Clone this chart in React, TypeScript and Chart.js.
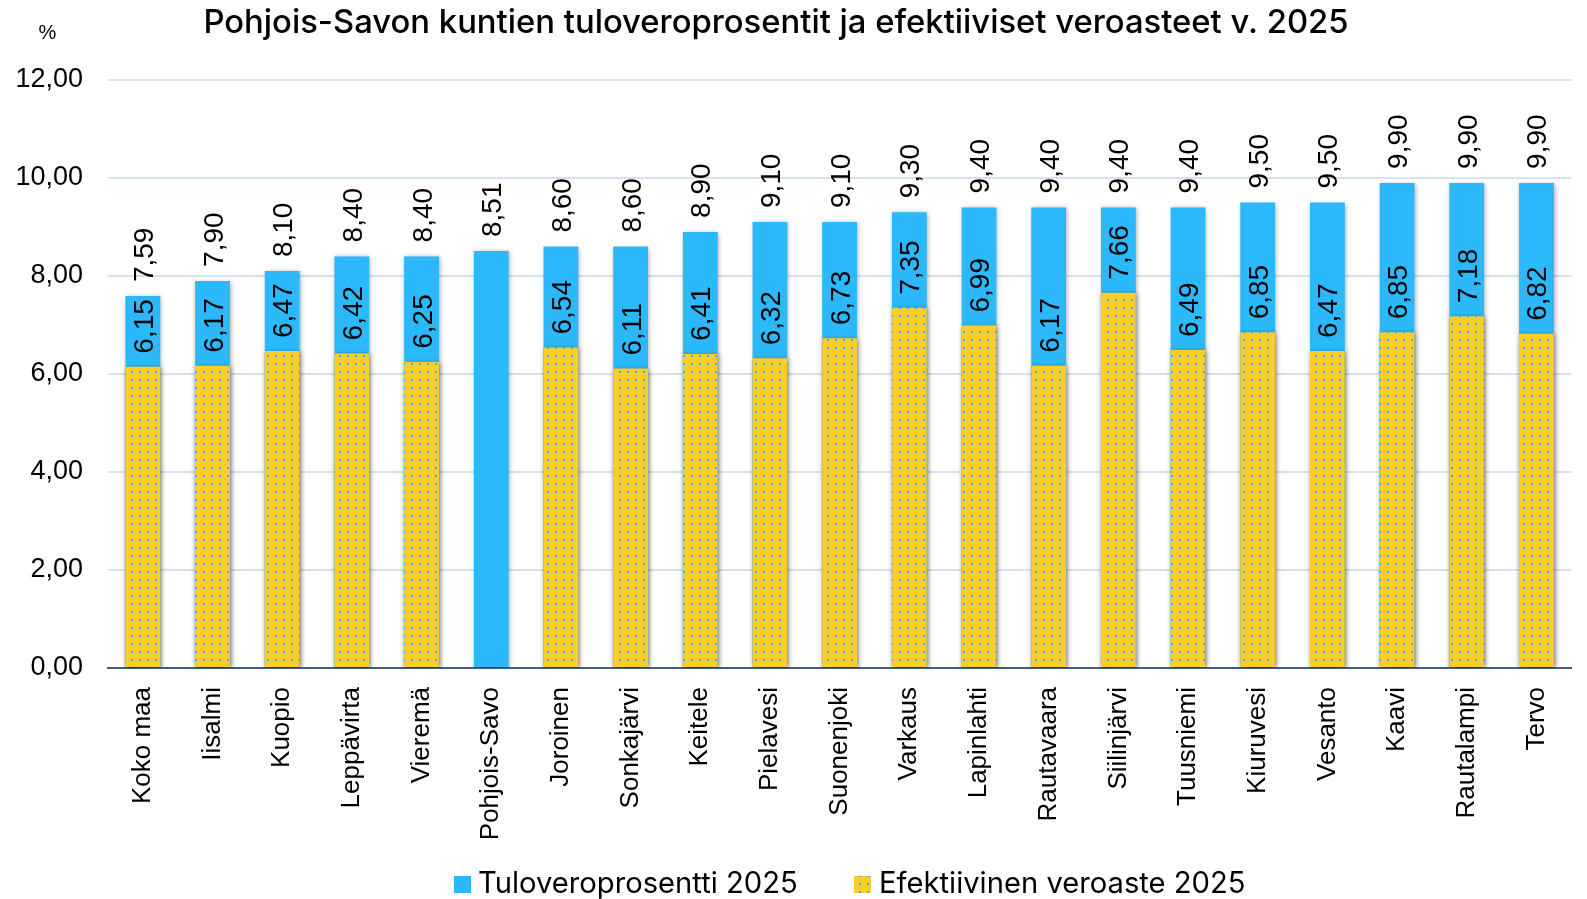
import React, { useEffect, useRef } from "react";
import { Chart, registerables } from "chart.js";

Chart.register(...registerables);

const categories = [
  "Koko maa", "Iisalmi", "Kuopio", "Leppävirta", "Vieremä", "Pohjois-Savo",
  "Joroinen", "Sonkajärvi", "Keitele", "Pielavesi", "Suonenjoki", "Varkaus",
  "Lapinlahti", "Rautavaara", "Siilinjärvi", "Tuusniemi", "Kiuruvesi", "Vesanto",
  "Kaavi", "Rautalampi", "Tervo",
];
const taxRate2025 = [
  7.59, 7.9, 8.1, 8.4, 8.4, 8.51, 8.6, 8.6, 8.9, 9.1, 9.1, 9.3, 9.4, 9.4, 9.4,
  9.4, 9.5, 9.5, 9.9, 9.9, 9.9,
];
const effectiveRate2025: (number | null)[] = [
  6.15, 6.17, 6.47, 6.42, 6.25, null, 6.54, 6.11, 6.41, 6.32, 6.73, 7.35, 6.99,
  6.17, 7.66, 6.49, 6.85, 6.47, 6.85, 7.18, 6.82,
];
const seriesNames = ["Tuloveroprosentti 2025", "Efektiivinen veroaste 2025"];
const titleText = "Pohjois-Savon kuntien tuloveroprosentit ja efektiiviset veroasteet v. 2025";
const unitText = "%";

const BLUE = "#2BB9FB";
const YELLOW = "#FDCD2B";
const fmt = (v: number) => v.toFixed(2).replace(".", ",");

function makePattern(): CanvasPattern | string {
  const c = document.createElement("canvas");
  c.width = 8;
  c.height = 8;
  const g = c.getContext("2d");
  if (!g) return YELLOW;
  g.fillStyle = YELLOW;
  g.fillRect(0, 0, 8, 8);
  g.fillStyle = BLUE;
  g.fillRect(3, 3, 2, 2);
  return g.createPattern(c, "repeat") || YELLOW;
}

export default function App() {
  const ref = useRef<HTMLCanvasElement | null>(null);

  useEffect(() => {
    if (!ref.current) return;
    const pattern = makePattern();

    const shadowPlugin = {
      id: "barShadow",
      beforeDatasetsDraw(chart: any) {
        const ctx = chart.ctx;
        ctx.save();
        ctx.shadowColor = "rgba(0,0,0,0.35)";
        ctx.shadowBlur = 5;
        ctx.shadowOffsetX = 1;
        ctx.shadowOffsetY = 1;
      },
      afterDatasetsDraw(chart: any) {
        chart.ctx.restore();
      },
    };

    const labelPlugin = {
      id: "valueLabels",
      afterDatasetsDraw(chart: any) {
        const ctx = chart.ctx;
        ctx.save();
        ctx.shadowColor = "transparent";
        ctx.font = "28px 'Liberation Sans', Arial, sans-serif";
        ctx.fillStyle = "#000";
        ctx.textAlign = "left";
        ctx.textBaseline = "alphabetic";
        chart.data.datasets.forEach((ds: any, di: number) => {
          const meta = chart.getDatasetMeta(di);
          const offset = di === 0 ? 13 : 14;
          meta.data.forEach((bar: any, i: number) => {
            const v = ds.data[i];
            if (v == null) return;
            ctx.save();
            ctx.translate(bar.x, bar.y - offset);
            ctx.rotate(-Math.PI / 2);
            ctx.fillText(fmt(v), 0, 10);
            ctx.restore();
          });
        });
        ctx.restore();
      },
    };

    const decorPlugin = {
      id: "decor",
      afterDraw(chart: any) {
        const ctx = chart.ctx;
        ctx.save();
        ctx.fillStyle = "#000";
        ctx.textBaseline = "alphabetic";
        // title
        ctx.font = "500 32.8px Inter, 'Liberation Sans', sans-serif";
        ctx.textAlign = "center";
        ctx.fillText(titleText, 776, 33);
        // unit
        ctx.font = "20px 'Liberation Sans', Arial, sans-serif";
        ctx.fillText(unitText, 47.5, 39);
        // legend
        ctx.textAlign = "left";
        ctx.font = "400 29.2px Inter, 'Liberation Sans', sans-serif";
        const items = [
          { bx: 454, tx: 478, fill: BLUE as any, text: seriesNames[0] },
          { bx: 854, tx: 879, fill: pattern as any, text: seriesNames[1] },
        ];
        items.forEach((it) => {
          ctx.fillStyle = it.fill;
          ctx.fillRect(it.bx, 876, 17, 17);
          ctx.fillStyle = "#000";
          ctx.fillText(it.text, it.tx, 893);
        });
        ctx.restore();
      },
    };

    const chart = new Chart(ref.current, {
      type: "bar",
      data: {
        labels: categories,
        datasets: [
          {
            label: seriesNames[1],
            data: effectiveRate2025 as any,
            backgroundColor: pattern as any,
            grouped: false,
            barPercentage: 0.5,
            categoryPercentage: 1,
          },
          {
            label: seriesNames[0],
            data: taxRate2025,
            backgroundColor: BLUE,
            grouped: false,
            barPercentage: 0.5,
            categoryPercentage: 1,
          },
        ],
      },
      options: {
        animation: false,
        responsive: false,
        maintainAspectRatio: false,
        layout: { padding: { top: 80, right: 15, left: 0, bottom: 0 } },
        plugins: {
          legend: { display: false },
          title: { display: false },
          tooltip: { enabled: false },
        },
        scales: {
          x: {
            grid: { display: false, drawTicks: false },
            border: { display: true, color: "#3E5F8A", width: 2 },
            ticks: {
              maxRotation: 90,
              minRotation: 90,
              padding: 19,
              autoSkip: false,
              color: "#000",
              font: { family: "'Liberation Sans', Arial, sans-serif", size: 26 },
            },
            afterFit(scale: any) {
              scale.height = 899 - 668;
            },
          },
          y: {
            min: 0,
            max: 12,
            ticks: {
              stepSize: 2,
              padding: 25,
              color: "#000",
              font: { family: "'Liberation Sans', Arial, sans-serif", size: 27 },
              callback: (v: any) => fmt(Number(v)),
            },
            grid: { color: "#D5E2F2", lineWidth: 2, drawTicks: false },
            border: { display: false },
            afterFit(scale: any) {
              scale.width = 108;
            },
          },
        },
      },
      plugins: [shadowPlugin, labelPlugin, decorPlugin],
    });
    return () => chart.destroy();
  }, []);

  return (
    <div style={{ position: "fixed", left: 0, top: 0, width: 1587, height: 899, background: "#fff" }}>
      <canvas ref={ref} width={1587} height={899} style={{ width: 1587, height: 899, display: "block" }} />
    </div>
  );
}
